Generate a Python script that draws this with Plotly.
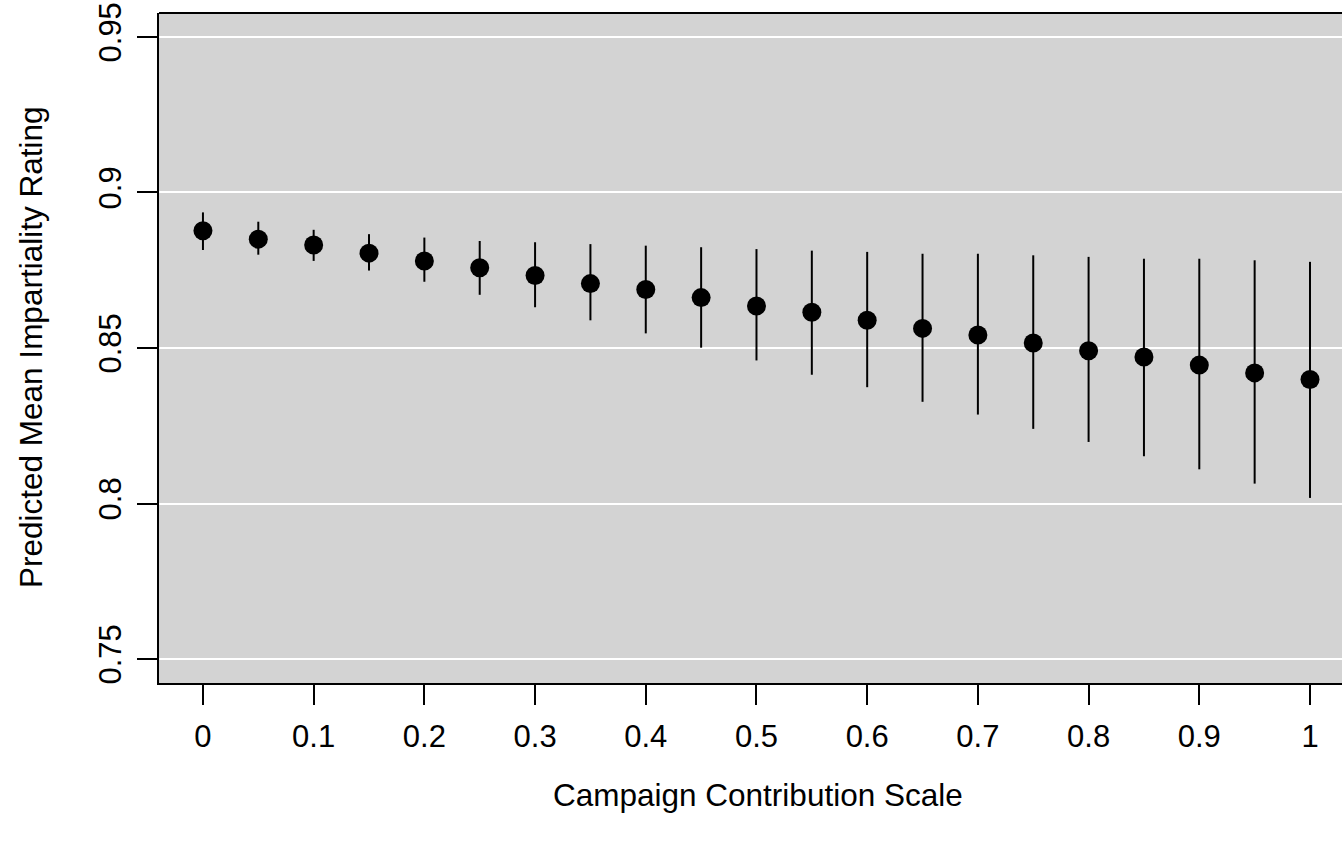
import plotly.graph_objects as go

x_vals = [0, 0.05, 0.1, 0.15, 0.2, 0.25, 0.3, 0.35, 0.4, 0.45, 0.5,
          0.55, 0.6, 0.65, 0.7, 0.75, 0.8, 0.85, 0.9, 0.95, 1.0]
means = [0.8877, 0.8850, 0.8831, 0.8805, 0.8780, 0.8758, 0.8733, 0.8707, 0.8688, 0.8662, 0.8635,
         0.8615, 0.8589, 0.8563, 0.8542, 0.8516, 0.8491, 0.8471, 0.8445, 0.8420, 0.8399]
upper = [0.8936, 0.8906, 0.8880, 0.8866, 0.8855, 0.8844, 0.8840, 0.8834, 0.8829, 0.8824, 0.8818,
         0.8813, 0.8809, 0.8803, 0.8803, 0.8798, 0.8793, 0.8787, 0.8787, 0.8782, 0.8777]
lower = [0.8815, 0.8800, 0.8780, 0.8749, 0.8713, 0.8671, 0.8631, 0.8589, 0.8547, 0.8501, 0.8460,
         0.8414, 0.8374, 0.8327, 0.8286, 0.8240, 0.8198, 0.8152, 0.8110, 0.8064, 0.8018]

x_ticks = [0, 0.1, 0.2, 0.3, 0.4, 0.5, 0.6, 0.7, 0.8, 0.9, 1]
x_ticklabels = ["0", "0.1", "0.2", "0.3", "0.4", "0.5", "0.6", "0.7", "0.8", "0.9", "1"]
y_ticks = [0.75, 0.8, 0.85, 0.9, 0.95]
y_ticklabels = ["0.75", "0.8", "0.85", "0.9", "0.95"]

FONT = "Liberation Sans, Arial, sans-serif"
FS = 31

err_plus = [u - m for u, m in zip(upper, means)]
err_minus = [m - l for m, l in zip(means, lower)]

fig = go.Figure()
fig.add_trace(go.Scatter(
    x=x_vals, y=means, mode="markers",
    marker=dict(color="black", size=19),
    error_y=dict(type="data", symmetric=False, array=err_plus, arrayminus=err_minus,
                 color="black", thickness=2, width=0),
    showlegend=False,
))

fig.update_layout(
    width=1342, height=843,
    margin=dict(l=159, r=0, t=13, b=160, autoexpand=False),
    paper_bgcolor="white",
    plot_bgcolor="#d3d3d3",
    font=dict(family=FONT, size=FS, color="black"),
    xaxis=dict(
        range=[-0.0397, 1.0289], tickmode="array", tickvals=x_ticks, ticktext=x_ticklabels,
        showgrid=False, zeroline=False, showline=True, linecolor="black", linewidth=2,
        ticks="outside", ticklen=20, tickwidth=1.5, tickcolor="black", automargin=False,
        ticklabelstandoff=5, ticklabeloverflow="allow", tickfont=dict(family=FONT, size=FS),
    ),
    yaxis=dict(
        range=[0.7423, 0.9577], tickmode="array", tickvals=y_ticks, ticktext=y_ticklabels,
        showgrid=True, gridcolor="white", gridwidth=1.5, zeroline=False,
        showline=True, linecolor="black", linewidth=2, automargin=False,
        ticks="outside", ticklen=20, tickwidth=1.5, tickcolor="black",
        tickangle=-90, ticklabelstandoff=4, ticklabeloverflow="allow",
        tickfont=dict(family=FONT, size=FS),
    ),
    shapes=[dict(type="line", xref="paper", yref="paper", x0=0, x1=1, y0=1, y1=1,
                 line=dict(color="black", width=2))],
    annotations=[
        dict(text="Campaign Contribution Scale", xref="paper", yref="paper",
             x=0.5063, y=-(795 - 683) / 670, xanchor="center", yanchor="middle",
             showarrow=False, font=dict(family=FONT, size=31.5)),
        dict(text="Predicted Mean Impartiality Rating", xref="paper", yref="paper",
             x=-(159 - 31) / 1183, y=0.5, xanchor="center", yanchor="middle", textangle=-90,
             showarrow=False, font=dict(family=FONT, size=31.5)),
    ],
)

fig.write_html("out.html", config={"displayModeBar": False},
               post_script="document.body.style.margin='0';")
